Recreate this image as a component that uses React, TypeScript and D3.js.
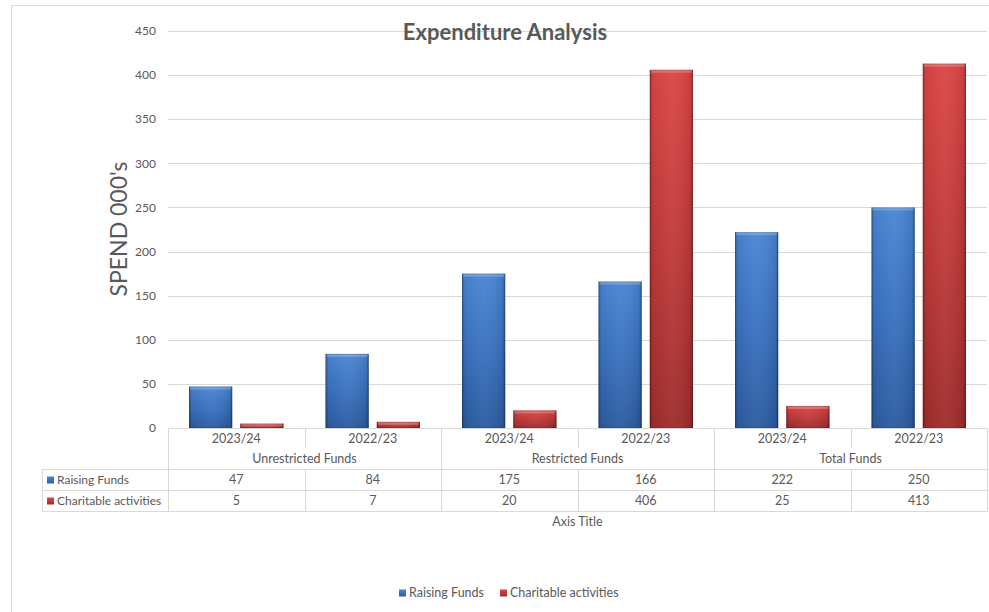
import React from "react";
import * as d3 from "d3";

const years = ["2023/24", "2022/23", "2023/24", "2022/23", "2023/24", "2022/23"];
const groups = ["Unrestricted Funds", "Restricted Funds", "Total Funds"];
const seriesNames = ["Raising Funds", "Charitable activities"];
const raisingFunds = [47, 84, 175, 166, 222, 250];
const charitable = [5, 7, 20, 406, 25, 413];
const yTicks = [0, 50, 100, 150, 200, 250, 300, 350, 400, 450];

const W = 989;
const H = 612;
const FONT = "Lato, 'Open Sans', sans-serif";
const TXT = "#595959";
const GRID = "#d9d9d9";

const plotLeft = 168;
const plotRight = 987;
const plotTop = 31;
const plotBottom = 428;
const tableLeft = 42;
const yearRowBottom = 448;
const groupRowBottom = 469;
const row1Bottom = 490;
const row2Bottom = 511;

export default function App() {
  const series = [raisingFunds, charitable];
  const x = d3.scaleBand<number>().domain(d3.range(years.length)).range([plotLeft, plotRight]).padding(0);
  const xi = d3
    .scaleBand<number>()
    .domain([0, 1])
    .range([0, x.bandwidth()])
    .paddingInner(0.157)
    .paddingOuter(0.41);
  const y = d3.scaleLinear().domain([0, 450]).range([plotBottom, plotTop]);
  const step = x.step();
  const grads = ["blue", "red"];

  return (
    <svg width={W} height={H} style={{ position: "absolute", left: 0, top: 0, background: "#fff" }} fontFamily={FONT}>
      <defs>
        <linearGradient id="g-blue" x1="0" y1="0" x2="0" y2="1">
          <stop offset="0" stopColor="#4a86d4" />
          <stop offset="0.5" stopColor="#3a72c0" />
          <stop offset="1" stopColor="#2c5ca2" />
        </linearGradient>
        <linearGradient id="g-red" x1="0" y1="0" x2="0" y2="1">
          <stop offset="0" stopColor="#dc4646" />
          <stop offset="0.5" stopColor="#c13a3a" />
          <stop offset="1" stopColor="#a02d2d" />
        </linearGradient>
        <linearGradient id="g-edge" x1="0" y1="0" x2="1" y2="0">
          <stop offset="0" stopColor="#000" stopOpacity="0.28" />
          <stop offset="0.07" stopColor="#000" stopOpacity="0.05" />
          <stop offset="0.5" stopColor="#fff" stopOpacity="0.04" />
          <stop offset="0.93" stopColor="#000" stopOpacity="0.08" />
          <stop offset="1" stopColor="#000" stopOpacity="0.32" />
        </linearGradient>
      </defs>
      <rect x={0} y={0} width={W} height={H} fill="#fff" />
      <rect x={11.5} y={5.5} width={1000} height={700} fill="none" stroke={GRID} />

      {/* gridlines */}
      {yTicks.filter((t) => t > 0).map((t) => (
        <line key={t} x1={plotLeft} x2={plotRight} y1={Math.round(y(t)) + 0.5} y2={Math.round(y(t)) + 0.5} stroke={GRID} />
      ))}
      {yTicks.map((t) => (
        <text key={"l" + t} x={156} y={y(t)} dy="0.35em" textAnchor="end" fontSize={12} fill={TXT}>
          {t}
        </text>
      ))}

      {/* bars */}
      {series.map((vals, s) =>
        vals.map((v, i) => {
          const bx = (x(i) as number) + (xi(s) as number);
          const bw = xi.bandwidth();
          const by = y(v);
          const bh = plotBottom - by;
          return (
            <g key={s + "-" + i}>
              <rect x={bx} y={by} width={bw} height={bh} fill={`url(#g-${grads[s]})`} />
              <rect x={bx} y={by} width={bw} height={bh} fill="url(#g-edge)" />
              <rect x={bx + 1} y={by} width={bw - 2} height={Math.min(3, bh)} fill="#fff" opacity={0.22} />
              <rect x={bx + 0.5} y={by + 0.5} width={bw - 1} height={Math.max(0, bh - 1)} fill="none" stroke="#000" strokeOpacity={0.15} />
            </g>
          );
        })
      )}

      {/* title */}
      <text x={505} y={32} dy="0.35em" textAnchor="middle" fontSize={22} fontWeight="bold" fill={TXT}>
        Expenditure Analysis
      </text>

      {/* y axis title */}
      <text
        transform={`translate(127,229) rotate(-90)`}
        textAnchor="middle"
        fontSize={23}
        fill={TXT}
      >
        SPEND 000's
      </text>

      {/* data table */}
      <g stroke={GRID} fill="none">
        <line x1={plotLeft} x2={plotRight} y1={plotBottom + 0.5} y2={plotBottom + 0.5} />
        {[groupRowBottom, row1Bottom, row2Bottom].map((yy) => (
          <line key={yy} x1={tableLeft} x2={plotRight} y1={yy + 0.5} y2={yy + 0.5} />
        ))}
        <line x1={tableLeft + 0.5} x2={tableLeft + 0.5} y1={groupRowBottom} y2={row2Bottom + 1} />
        {d3.range(years.length + 1).map((i) => {
          const xx = Math.round(plotLeft + i * step) + 0.5;
          const full = i % 2 === 0;
          return full ? (
            <line key={"v" + i} x1={xx} x2={xx} y1={plotBottom} y2={row2Bottom + 1} />
          ) : (
            <g key={"v" + i}>
              <line x1={xx} x2={xx} y1={plotBottom} y2={yearRowBottom} />
              <line x1={xx} x2={xx} y1={groupRowBottom} y2={row2Bottom + 1} />
            </g>
          );
        })}
      </g>
      {years.map((yr, i) => (
        <text key={"y" + i} x={(x(i) as number) + step / 2} y={438.5} dy="0.35em" textAnchor="middle" fontSize={12.5} fill={TXT}>
          {yr}
        </text>
      ))}
      {groups.map((g, k) => (
        <text key={g} x={plotLeft + step * (2 * k + 1)} y={459} dy="0.35em" textAnchor="middle" fontSize={12.5} fill={TXT}>
          {g}
        </text>
      ))}
      {series.map((vals, s) => {
        const cy = s === 0 ? (groupRowBottom + row1Bottom) / 2 + 0.5 : (row1Bottom + row2Bottom) / 2 + 0.5;
        return (
          <g key={"row" + s}>
            <rect x={47} y={cy - 3.5} width={7} height={7} fill={`url(#g-${grads[s]})`} />
            <text x={57} y={cy} dy="0.35em" fontSize={12} fill={TXT}>
              {seriesNames[s]}
            </text>
            {vals.map((v, i) => (
              <text key={i} x={(x(i) as number) + step / 2} y={cy} dy="0.35em" textAnchor="middle" fontSize={12.5} fill={TXT}>
                {v}
              </text>
            ))}
          </g>
        );
      })}
      <text x={(plotLeft + plotRight) / 2} y={522} dy="0.35em" textAnchor="middle" fontSize={12.5} fill={TXT}>
        Axis Title
      </text>

      {/* legend */}
      {seriesNames.map((n, s) => {
        const lx = s === 0 ? 399 : 500;
        return (
          <g key={"lg" + n}>
            <rect x={lx} y={589.5} width={7} height={7} fill={`url(#g-${grads[s]})`} />
            <text x={lx + 10} y={593} dy="0.35em" fontSize={12.5} fill={TXT}>
              {n}
            </text>
          </g>
        );
      })}
    </svg>
  );
}
